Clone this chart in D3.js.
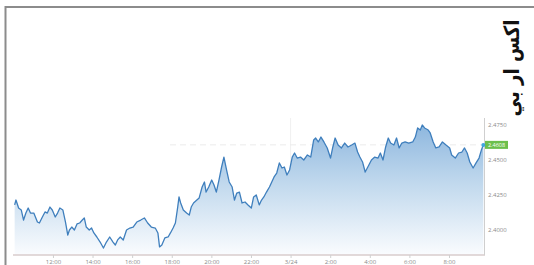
<!DOCTYPE html>
<html><head><meta charset="utf-8">
<script src="https://cdn.jsdelivr.net/npm/d3@7"></script>
<style>html,body{margin:0;padding:0;background:#fff;}svg{display:block;}</style>
</head><body>
<svg id="chart" width="534" height="265"></svg>
<script>
// minutes after 3/23 00:00
const timeMin = [604,608,616,624,631,638,645,652,662,673,679,688,696,703,711,718,727,734,741,750,758,765,770,777,785,793,801,809,815,821,830,837,844,853,863,873,882,892,902,909,916,924,933,943,953,963,974,986,997,1007,1018,1030,1038,1043,1050,1059,1069,1076,1084,1091,1098,1102,1107,1115,1125,1133,1139,1146,1156,1163,1172,1179,1184,1192,1201,1208,1215,1223,1231,1238,1246,1254,1263,1270,1277,1285,1293,1302,1311,1321,1328,1336,1345,1352,1359,1367,1376,1383,1390,1398,1406,1414,1421,1429,1437,1445,1452,1460,1470,1480,1491,1501,1510,1516,1524,1532,1541,1551,1561,1568,1575,1584,1594,1604,1614,1625,1635,1643,1650,1658,1666,1674,1685,1695,1705,1712,1720,1728,1736,1743,1753,1761,1769,1777,1787,1798,1810,1818,1825,1833,1839,1846,1857,1863,1872,1880,1890,1900,1911,1922,1928,1939,1949,1959,1967,1975,1983,1993,2002,2011,2018,2024];
const prices = [2.4179,2.4214,2.4157,2.4143,2.4071,2.4121,2.4157,2.4121,2.4121,2.4057,
2.4050,2.4093,2.4129,2.4121,2.4164,2.4143,2.4093,2.4121,2.4157,2.4143,
2.4057,2.3964,2.4000,2.4021,2.4000,2.4043,2.4050,2.4071,2.4086,2.4021,
2.4000,2.4014,2.3979,2.3950,2.3914,2.3871,2.3914,2.3950,2.3914,2.3893,
2.3929,2.3950,2.3929,2.4000,2.4014,2.4021,2.4057,2.4071,2.4086,2.4050,
2.4021,2.4014,2.3979,2.3879,2.3893,2.3943,2.3950,2.3979,2.4014,2.4050,
2.4164,2.4236,2.4193,2.4143,2.4121,2.4107,2.4164,2.4193,2.4214,2.4229,
2.4307,2.4343,2.4271,2.4307,2.4357,2.4321,2.4271,2.4357,2.4450,2.4521,
2.4429,2.4343,2.4307,2.4214,2.4264,2.4271,2.4193,2.4200,2.4179,2.4157,
2.4236,2.4250,2.4179,2.4214,2.4236,2.4271,2.4307,2.4343,2.4379,2.4407,
2.4479,2.4443,2.4450,2.4393,2.4429,2.4521,2.4550,2.4514,2.4521,2.4500,
2.4536,2.4521,2.4643,2.4657,2.4629,2.4664,2.4629,2.4586,2.4514,2.4593,
2.4657,2.4607,2.4586,2.4621,2.4593,2.4607,2.4621,2.4557,2.4521,2.4486,
2.4414,2.4450,2.4500,2.4521,2.4514,2.4550,2.4500,2.4593,2.4657,2.4621,
2.4607,2.4657,2.4586,2.4621,2.4629,2.4621,2.4629,2.4664,2.4729,2.4714,
2.4750,2.4729,2.4714,2.4693,2.4629,2.4586,2.4593,2.4629,2.4607,2.4586,
2.4536,2.4514,2.4550,2.4557,2.4586,2.4550,2.4486,2.4443,2.4479,2.4514,
2.4571,2.4608];
// x tick positions, minutes after 3/23 00:00 (12:00 ... 8:00 next day)
const xTickMin = [720,840,960,1080,1200,1320,1440,1560,1680,1800,1920];
const yTicks = [2.4000, 2.4250, 2.4500, 2.4750];
const lastLabel = "2.4608";
const title = "اكس ار بي";

const base = new Date(2024, 2, 23, 0, 0);
const toDate = m => new Date(base.getTime() + m * 60000);
const data = d3.zip(timeMin, prices).map(([m, v]) => ({t: toDate(m), v}));

const svg = d3.select("#chart");
const L = 13, R = 484, T = 118, B = 255;
const x = d3.scaleTime().domain([toDate(599), toDate(2026)]).range([L, R]);
const y = d3.scaleLinear().domain([2.38214, 2.48]).range([B, T]);

// frame
svg.append("line").attr("x1", 5).attr("x2", 534).attr("y1", 7).attr("y2", 7).attr("stroke", "#8c8c8c").attr("stroke-width", 2);
svg.append("line").attr("x1", 5.5).attr("x2", 5.5).attr("y1", 6).attr("y2", 265).attr("stroke", "#8c8c8c").attr("stroke-width", 2);

const defs = svg.append("defs");
const g = defs.append("linearGradient").attr("id", "fillGrad").attr("gradientUnits", "userSpaceOnUse")
  .attr("x1", 0).attr("x2", 0).attr("y1", T + 5).attr("y2", B);
g.append("stop").attr("offset", 0).attr("stop-color", "#8cb6de");
g.append("stop").attr("offset", 0.45).attr("stop-color", "#c0d8ed");
g.append("stop").attr("offset", 1).attr("stop-color", "#fafcfe");

// faint guides
svg.append("line").attr("x1", x(toDate(1440))).attr("x2", x(toDate(1440))).attr("y1", T).attr("y2", B)
  .attr("stroke", "#f0f0f0").attr("stroke-width", 1);
svg.append("line").attr("x1", 170).attr("x2", R).attr("y1", y(prices[prices.length-1])).attr("y2", y(prices[prices.length-1]))
  .attr("stroke", "#ebebeb").attr("stroke-width", 1).attr("stroke-dasharray", "6,4");

svg.append("path").datum(data)
  .attr("d", d3.area().x(d => x(d.t)).y0(B).y1(d => y(d.v)))
  .attr("fill", "url(#fillGrad)");
svg.append("path").datum(data)
  .attr("d", d3.line().x(d => x(d.t)).y(d => y(d.v)))
  .attr("fill", "none").attr("stroke", "#3f7fbd").attr("stroke-width", 1.3).attr("stroke-linejoin", "round");

// axes lines
svg.append("line").attr("x1", L).attr("x2", R + 1).attr("y1", B).attr("y2", B).attr("stroke", "#d8cccc").attr("stroke-width", 1.5);
svg.append("line").attr("x1", R + 0.5).attr("x2", R + 0.5).attr("y1", T).attr("y2", B).attr("stroke", "#cfcfcf").attr("stroke-width", 1);

// x axis
const fmt = d => d.getHours() === 0 ? (d.getMonth() + 1) + "/" + d.getDate() : d.getHours() + ":00";
const xAxis = svg.append("g").attr("transform", `translate(0,${B})`)
  .call(d3.axisBottom(x).tickValues(xTickMin.map(toDate)).tickFormat(fmt).tickSize(3).tickPadding(2));
xAxis.select(".domain").remove();
xAxis.selectAll(".tick line").attr("stroke", "#d0d0d0");
xAxis.selectAll(".tick text").attr("fill", "#8a8a8a").attr("font-size", "6px").attr("font-family", "Open Sans, sans-serif");

// y axis
const yAxis = svg.append("g").attr("transform", `translate(${R},0)`)
  .call(d3.axisRight(y).tickValues(yTicks).tickFormat(d3.format(".4f")).tickSize(0).tickPadding(4));
yAxis.select(".domain").remove();
yAxis.selectAll(".tick text").attr("fill", "#8a8a8a").attr("font-size", "6px").attr("font-family", "Open Sans, sans-serif");

// last price badge
const ly = y(prices[prices.length - 1]);
svg.append("rect").attr("x", R + 1).attr("y", ly - 4).attr("width", 23).attr("height", 8).attr("fill", "#6cbf4c");
svg.append("text").attr("x", R + 12.5).attr("y", ly).attr("text-anchor", "middle").attr("dominant-baseline", "central")
  .attr("fill", "#ffffff").attr("font-size", "5.5px").attr("font-family", "Open Sans, sans-serif").text(lastLabel);
svg.append("circle").attr("cx", x(data[data.length-1].t)).attr("cy", ly).attr("r", 2).attr("fill", "#3fa6de");

// title
svg.append("text").attr("transform", "translate(512,68) rotate(-90)")
  .attr("text-anchor", "middle").attr("dominant-baseline", "central")
  .attr("font-family", "DejaVu Sans, sans-serif").attr("font-weight", "bold").attr("font-size", "21px")
  .attr("textLength", 97).attr("lengthAdjust", "spacingAndGlyphs")
  .attr("fill", "#111").text(title);
</script>
</body></html>
